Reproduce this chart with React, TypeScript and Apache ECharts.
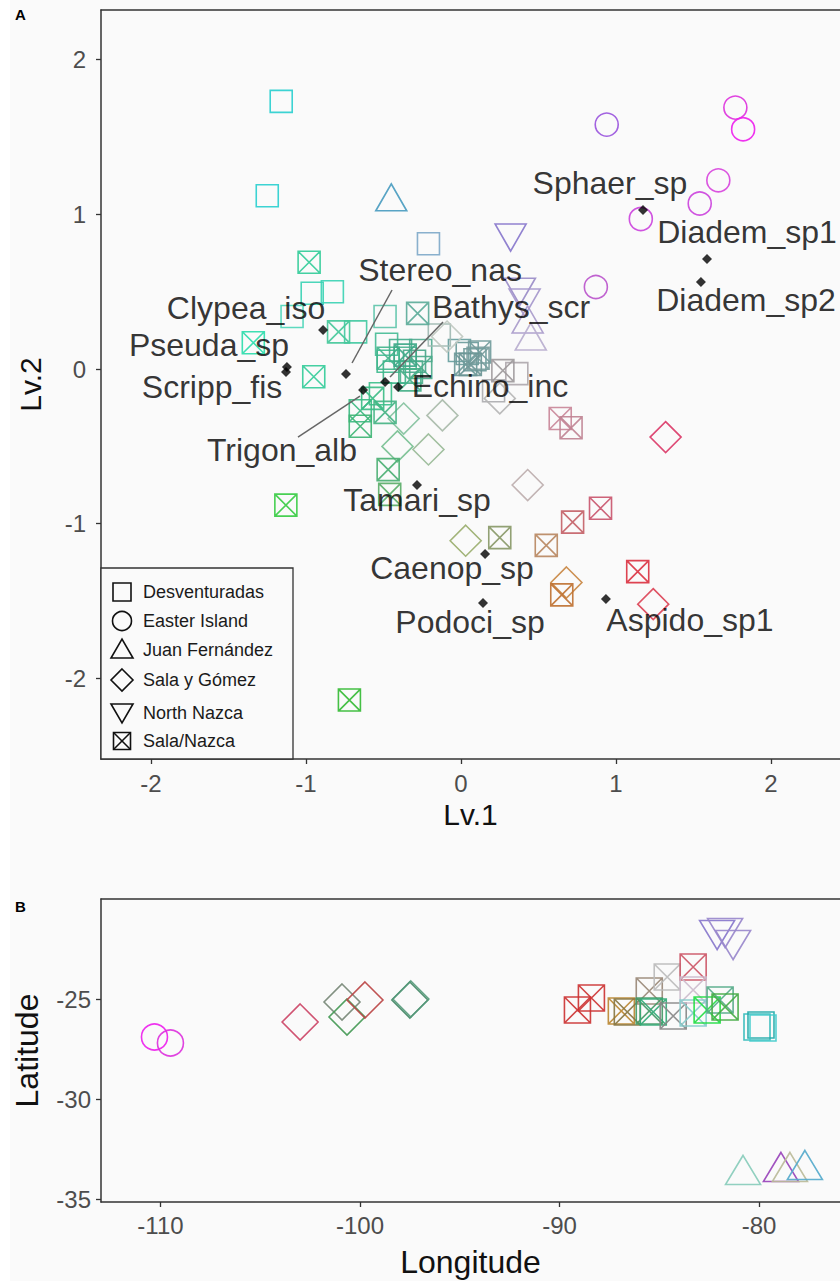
import React, { useEffect, useRef } from "react";
import * as echarts from "echarts";

const FONT = "'Liberation Sans', Arial, Helvetica, sans-serif";

// Region (site group) names, legend order
const regions = ["Desventuradas", "Easter Island", "Juan Fernández", "Sala y Gómez", "North Nazca", "Sala/Nazca"];

// ---------- Panel A: site scores on latent variables (Lv.1, Lv.2) ----------
const lvDesventuradas = [
  [-1.16, 1.73], [-1.25, 1.12], [-0.96, 0.49], [-0.83, 0.5], [-1.09, 0.34], [-0.68, 0.24],
  [-0.49, 0.34], [-0.21, 0.81], [-0.48, 0.16], [-0.47, 0.05], [-0.36, 0.07], [-0.26, 0.12],
  [-0.32, -0.02], [-0.01, 0.12], [0.09, 0.06], [0.36, -0.03], [0.21, -0.14], [-0.14, 0.22], [-0.52, -0.16],
  [-0.39, 0.12], [-0.3, 0.05], [-0.43, -0.02], [0.04, 0.1],
];
const colDesventuradas = [
  "#2bcfcf", "#2bcfcf", "#3cd2b4", "#3cd2b4", "#4fd6ba", "#43c9a2",
  "#5ec4aa", "#7fa9c9", "#47bc96", "#3fba8e", "#4db391", "#52aa90",
  "#4cae8c", "#679e9e", "#6e9a9a", "#afa8ae", "#adadb0", "#9fb9b2", "#3ec08c",
  "#44ad8c", "#4aa68a", "#3fb48a", "#6a9a9a",
];
const lvEaster = [[0.94, 1.58], [1.77, 1.69], [1.82, 1.55], [1.66, 1.22], [1.54, 1.07], [1.16, 0.97], [0.87, 0.53]];
const colEaster = ["#9a55dd", "#dd33dd", "#ee22ee", "#d845dd", "#cc44dd", "#cc44dd", "#bb55cc"];
const lvJuanFernandez = [[-0.45, 1.11], [0.43, 0.32], [0.45, 0.21]];
const colJuanFernandez = ["#4a9cc0", "#a99bcb", "#b8aecf"];
const lvSalaGomez = [
  [1.32, -0.44], [0.43, -0.75], [0.03, -1.11], [0.68, -1.38], [1.24, -1.52], [-0.12, -0.3],
  [-0.37, -0.32], [-0.41, -0.5], [-0.21, -0.52], [-0.09, 0.21], [0.25, -0.19],
];
const colSalaGomez = [
  "#db3a68", "#bdaeae", "#9aae6e", "#c98844", "#dc4457", "#a9bbaa",
  "#86c2a0", "#78c092", "#9abb98", "#bfc8c0", "#b5b5b5",
];
const lvNorthNazca = [[0.32, 0.85], [0.38, 0.5], [0.41, 0.43]];
const colNorthNazca = ["#8877cc", "#9a8cc8", "#a597cc"];
const lvSalaNazca = [
  [-0.98, 0.69], [-0.79, 0.24], [-1.34, 0.17], [-0.95, -0.05], [-1.13, -0.88], [-0.72, -2.14],
  [-0.28, 0.36], [-0.47, 0.07], [-0.26, 0.01], [0.03, 0.03], [0.12, 0.11], [0.27, -0.01],
  [-0.65, -0.27], [-0.65, -0.37], [-0.49, -0.28], [-0.47, -0.65], [-0.46, -0.81], [0.64, -0.32],
  [0.71, -0.38], [0.25, -1.09], [0.55, -1.14], [0.72, -0.99], [0.9, -0.9], [1.14, -1.31], [0.65, -1.46],
  [-0.36, 0.09], [0.06, 0.03], [0.11, 0.07], [-0.33, -0.07], [-0.57, -0.19],
];
const colSalaNazca = [
  "#33cc99", "#45c89a", "#2edcac", "#35cc9a", "#38cc44", "#35bb35",
  "#5cab99", "#42b58c", "#4baa8a", "#6c9999", "#729c9c", "#9e9a9c",
  "#3dba82", "#3eb474", "#47b384", "#4aaf72", "#5aad68", "#c98799",
  "#bf8393", "#899968", "#b98862", "#c46268", "#c9566e", "#db3342", "#bf7233",
  "#3fa888", "#6b9595", "#779c9c", "#45b088", "#3cbc86",
];

// Species loadings (black markers) and their repelled label positions
const speciesNames = [
  "Sphaer_sp", "Diadem_sp1", "Diadem_sp2", "Clypea_iso", "Pseuda_sp", "Scripp_fis", "Stereo_nas",
  "Trigon_alb", "Bathys_scr", "Echino_inc", "Tamari_sp", "Caenop_sp", "Podoci_sp", "Aspido_sp1",
];
const speciesLv = [
  [1.174, 1.028], [1.587, 0.711], [1.548, 0.562], [-0.89, 0.252], [-1.123, 0.013], [-1.129, -0.019],
  [-0.742, -0.032], [-0.632, -0.136], [-0.49, -0.084], [-0.406, -0.116], [-0.284, -0.75],
  [0.155, -1.196], [0.142, -1.513], [0.935, -1.487],
];
const labelLv = [
  [0.961, 1.202], [1.845, 0.886], [1.839, 0.446], [-1.387, 0.394], [-1.626, 0.155], [-1.606, -0.116],
  [-0.135, 0.64], [-1.155, -0.524], [0.323, 0.401], [0.187, -0.11], [-0.284, -0.847],
  [-0.058, -1.286], [0.058, -1.635], [1.477, -1.622],
];
const leaderLines = [
  [[-0.703, 0.039], [-0.445, 0.511]],
  [[-1.052, -0.44], [-0.652, -0.175]],
  [[-0.458, -0.052], [-0.116, 0.304]],
];

// ---------- Panel B: site coordinates (Longitude, Latitude) ----------
const geoDesventuradas = [[-80.1, -26.4], [-79.9, -26.3], [-79.8, -26.45]];
const colGeoDesventuradas = ["#33bbbb", "#22aaaa", "#44cccc"];
const geoEaster = [[-110.3, -26.9], [-109.5, -27.2]];
const colGeoEaster = ["#ee22ee", "#dd33dd"];
const geoJuanFernandez = [[-80.8, -33.55], [-78.9, -33.4], [-78.45, -33.4], [-77.7, -33.3]];
const colGeoJuanFernandez = ["#88ccbb", "#9944bb", "#bbbb99", "#55aacc"];
const geoSalaGomez = [[-103.0, -26.15], [-100.9, -25.15], [-100.65, -25.9], [-99.75, -25.05], [-97.5, -25.05], [-97.45, -25.0]];
const colGeoSalaGomez = ["#cc4466", "#778877", "#449955", "#bb4444", "#448866", "#55997a"];
const geoNorthNazca = [[-82.1, -21.8], [-81.7, -21.7], [-81.3, -22.3]];
const colGeoNorthNazca = ["#8877cc", "#9988cc", "#9988cc"];
const geoSalaNazca = [
  [-89.1, -25.55], [-88.4, -24.95], [-86.9, -25.6], [-86.6, -25.65], [-85.5, -24.6], [-85.5, -25.6],
  [-85.3, -25.65], [-84.6, -23.9], [-84.3, -25.85], [-83.3, -23.4], [-83.3, -24.55], [-83.3, -25.7],
  [-82.6, -25.55], [-81.95, -25.05], [-81.7, -25.4],
];
const colGeoSalaNazca = [
  "#cc3333", "#cc3333", "#bb8833", "#887744", "#998877", "#449966",
  "#33aa77", "#bbbbbb", "#888888", "#cc5566", "#ccbbcc", "#88cccc",
  "#22dd44", "#55aa88", "#44aa44",
];

// Tick values
const lvTicks = [-2, -1, 0, 1, 2];
const lonTicks = [-110, -100, -90, -80];
const latTicks = [-35, -30, -25];

const BOXX = "path://M0,0L10,0L10,10L0,10Z M0,0L10,10 M10,0L0,10";
const symbols = ["rect", "circle", "triangle", "diamond", "triangle", BOXX];
const rotations = [0, 0, 0, 0, 180, 0];
const sizesA: any[] = [22, 23, [31, 27], 31, [31, 27], 22];
const sizesB: any[] = [26, 26, [35, 29], 36, [35, 29], 26];

function shapeSeries(i: number, pts: number[][], cols: string[], panel: number) {
  return {
    type: "scatter",
    name: regions[i],
    xAxisIndex: panel === 0 ? 0 : 2,
    yAxisIndex: panel,
    symbol: symbols[i],
    symbolRotate: rotations[i],
    symbolSize: panel === 0 ? sizesA[i] : sizesB[i],
    z: 2,
    silent: true,
    itemStyle: { color: "rgba(0,0,0,0)", borderColor: "#000", borderWidth: 1.6, opacity: 0.92 },
    data: pts.map((p, k) => ({ value: p, itemStyle: { borderColor: cols[k] } })),
  };
}

function axisBase(min: number, max: number, ticks: number[], margin: number) {
  return {
    type: "value",
    min,
    max,
    splitLine: { show: false },
    axisLine: { show: true, onZero: false, lineStyle: { color: "#333", width: 1.5 } },
    axisTick: { show: true, length: 5, customValues: ticks, lineStyle: { color: "#333", width: 1.3 } },
    axisLabel: { customValues: ticks, fontSize: 24, color: "#4d4d4d", fontFamily: FONT, margin },
  };
}

function topBorder(gridIndex: number, min: number, max: number) {
  return {
    type: "value",
    gridIndex,
    position: "top",
    min,
    max,
    splitLine: { show: false },
    axisLine: { show: true, onZero: false, lineStyle: { color: "#333", width: 1.5 } },
    axisTick: { show: false },
    axisLabel: { show: false },
  };
}

function legendGraphics() {
  const cx = 122;
  const ys = [592, 621, 650, 680, 713, 741];
  const st = { fill: "none", stroke: "#111", lineWidth: 1.6 };
  const els: any[] = [
    { type: "rect", shape: { x: 101, y: 568, width: 192, height: 191 }, style: { fill: "#fafafa", stroke: "#333", lineWidth: 1.3 }, z: 20 },
    { type: "rect", shape: { x: cx - 9, y: ys[0] - 9, width: 18, height: 18 }, style: st, z: 21 },
    { type: "circle", shape: { cx, cy: ys[1], r: 9.5 }, style: st, z: 21 },
    { type: "polygon", shape: { points: [[cx - 11, ys[2] + 8], [cx + 11, ys[2] + 8], [cx, ys[2] - 11]] }, style: st, z: 21 },
    { type: "polygon", shape: { points: [[cx, ys[3] - 11], [cx + 11, ys[3]], [cx, ys[3] + 11], [cx - 11, ys[3]]] }, style: st, z: 21 },
    { type: "polygon", shape: { points: [[cx - 11, ys[4] - 9], [cx + 11, ys[4] - 9], [cx, ys[4] + 10]] }, style: st, z: 21 },
    { type: "rect", shape: { x: cx - 8.5, y: ys[5] - 8.5, width: 17, height: 17 }, style: st, z: 21 },
    { type: "line", shape: { x1: cx - 8.5, y1: ys[5] - 8.5, x2: cx + 8.5, y2: ys[5] + 8.5 }, style: { stroke: "#111", lineWidth: 1.6 }, z: 21 },
    { type: "line", shape: { x1: cx + 8.5, y1: ys[5] - 8.5, x2: cx - 8.5, y2: ys[5] + 8.5 }, style: { stroke: "#111", lineWidth: 1.6 }, z: 21 },
  ];
  regions.forEach((r, i) => {
    els.push({
      type: "text",
      x: 143,
      y: ys[i],
      z: 21,
      style: { text: r, fontSize: 18, fontFamily: FONT, fill: "#1a1a1a", verticalAlign: "middle", align: "left" },
    });
  });
  return els;
}

export default function App() {
  const ref = useRef<HTMLDivElement>(null);

  useEffect(() => {
    if (!ref.current) return;
    const chart = echarts.init(ref.current, undefined, { renderer: "svg" });

    const option: any = {
      animation: false,
      backgroundColor: "#fafafa",
      grid: [
        { left: 101, top: 10, right: 0, bottom: 522 },
        { left: 101, top: 899, right: 0, bottom: 79 },
      ],
      xAxis: [
        {
          ...axisBase(-2.3226, 2.445, lvTicks, 12),
          gridIndex: 0,
          position: "bottom",
          name: "Lv.1",
          nameLocation: "middle",
          nameGap: 40,
          nameTextStyle: { fontSize: 30, color: "#111", fontFamily: FONT },
        },
        topBorder(0, -2.3226, 2.445),
        {
          ...axisBase(-112.98, -75.94, lonTicks, 11),
          gridIndex: 1,
          position: "bottom",
          name: "Longitude",
          nameLocation: "middle",
          nameGap: 44,
          nameTextStyle: { fontSize: 32, color: "#111", fontFamily: FONT },
        },
        topBorder(1, -112.98, -75.94),
      ],
      yAxis: [
        {
          ...axisBase(-2.521, 2.321, lvTicks, 15),
          gridIndex: 0,
          name: "Lv.2",
          nameLocation: "middle",
          nameGap: 56,
          nameRotate: 90,
          nameTextStyle: { fontSize: 30, color: "#111", fontFamily: FONT },
        },
        {
          ...axisBase(-35.15, -20.0, latTicks, 10),
          gridIndex: 1,
          name: "Latitude",
          nameLocation: "middle",
          nameGap: 58,
          nameRotate: 90,
          nameTextStyle: { fontSize: 32, color: "#111", fontFamily: FONT },
        },
      ],
      graphic: [
        { type: "rect", shape: { x: 0, y: 0, width: 10, height: 1281 }, style: { fill: "#fff" }, z: 0 },
        { type: "text", x: 15, y: 14, style: { text: "A", fontSize: 15, fontWeight: "bold", fontFamily: FONT, fill: "#000", verticalAlign: "middle" } },
        { type: "text", x: 15, y: 906, style: { text: "B", fontSize: 15, fontWeight: "bold", fontFamily: FONT, fill: "#000", verticalAlign: "middle" } },
        ...legendGraphics(),
      ],
      series: [
        shapeSeries(0, lvDesventuradas, colDesventuradas, 0),
        shapeSeries(1, lvEaster, colEaster, 0),
        shapeSeries(2, lvJuanFernandez, colJuanFernandez, 0),
        shapeSeries(3, lvSalaGomez, colSalaGomez, 0),
        shapeSeries(4, lvNorthNazca, colNorthNazca, 0),
        shapeSeries(5, lvSalaNazca, colSalaNazca, 0),
        {
          type: "lines",
          coordinateSystem: "cartesian2d",
          xAxisIndex: 0,
          yAxisIndex: 0,
          silent: true,
          z: 4,
          lineStyle: { color: "#666", width: 1.5, opacity: 1 },
          data: leaderLines.map((c) => ({ coords: c })),
        },
        {
          type: "scatter",
          name: "species",
          xAxisIndex: 0,
          yAxisIndex: 0,
          symbol: "diamond",
          symbolSize: 10,
          silent: true,
          z: 5,
          itemStyle: { color: "#000" },
          data: speciesLv.map((p, i) => ({ value: p, name: speciesNames[i] })),
        },
        {
          type: "scatter",
          name: "labels",
          xAxisIndex: 0,
          yAxisIndex: 0,
          symbol: "circle",
          symbolSize: 1,
          silent: true,
          z: 6,
          itemStyle: { color: "rgba(0,0,0,0)" },
          label: { show: true, position: "inside", formatter: "{b}", fontSize: 32, color: "#000", fontFamily: FONT },
          data: labelLv.map((p, i) => ({ value: p, name: speciesNames[i] })),
        },
        shapeSeries(0, geoDesventuradas, colGeoDesventuradas, 1),
        shapeSeries(1, geoEaster, colGeoEaster, 1),
        shapeSeries(2, geoJuanFernandez, colGeoJuanFernandez, 1),
        shapeSeries(3, geoSalaGomez, colGeoSalaGomez, 1),
        shapeSeries(4, geoNorthNazca, colGeoNorthNazca, 1),
        shapeSeries(5, geoSalaNazca, colGeoSalaNazca, 1),
      ],
    };

    chart.setOption(option);
    return () => chart.dispose();
  }, []);

  return <div ref={ref} style={{ position: "absolute", left: 0, top: 0, width: 840, height: 1281 }} />;
}
